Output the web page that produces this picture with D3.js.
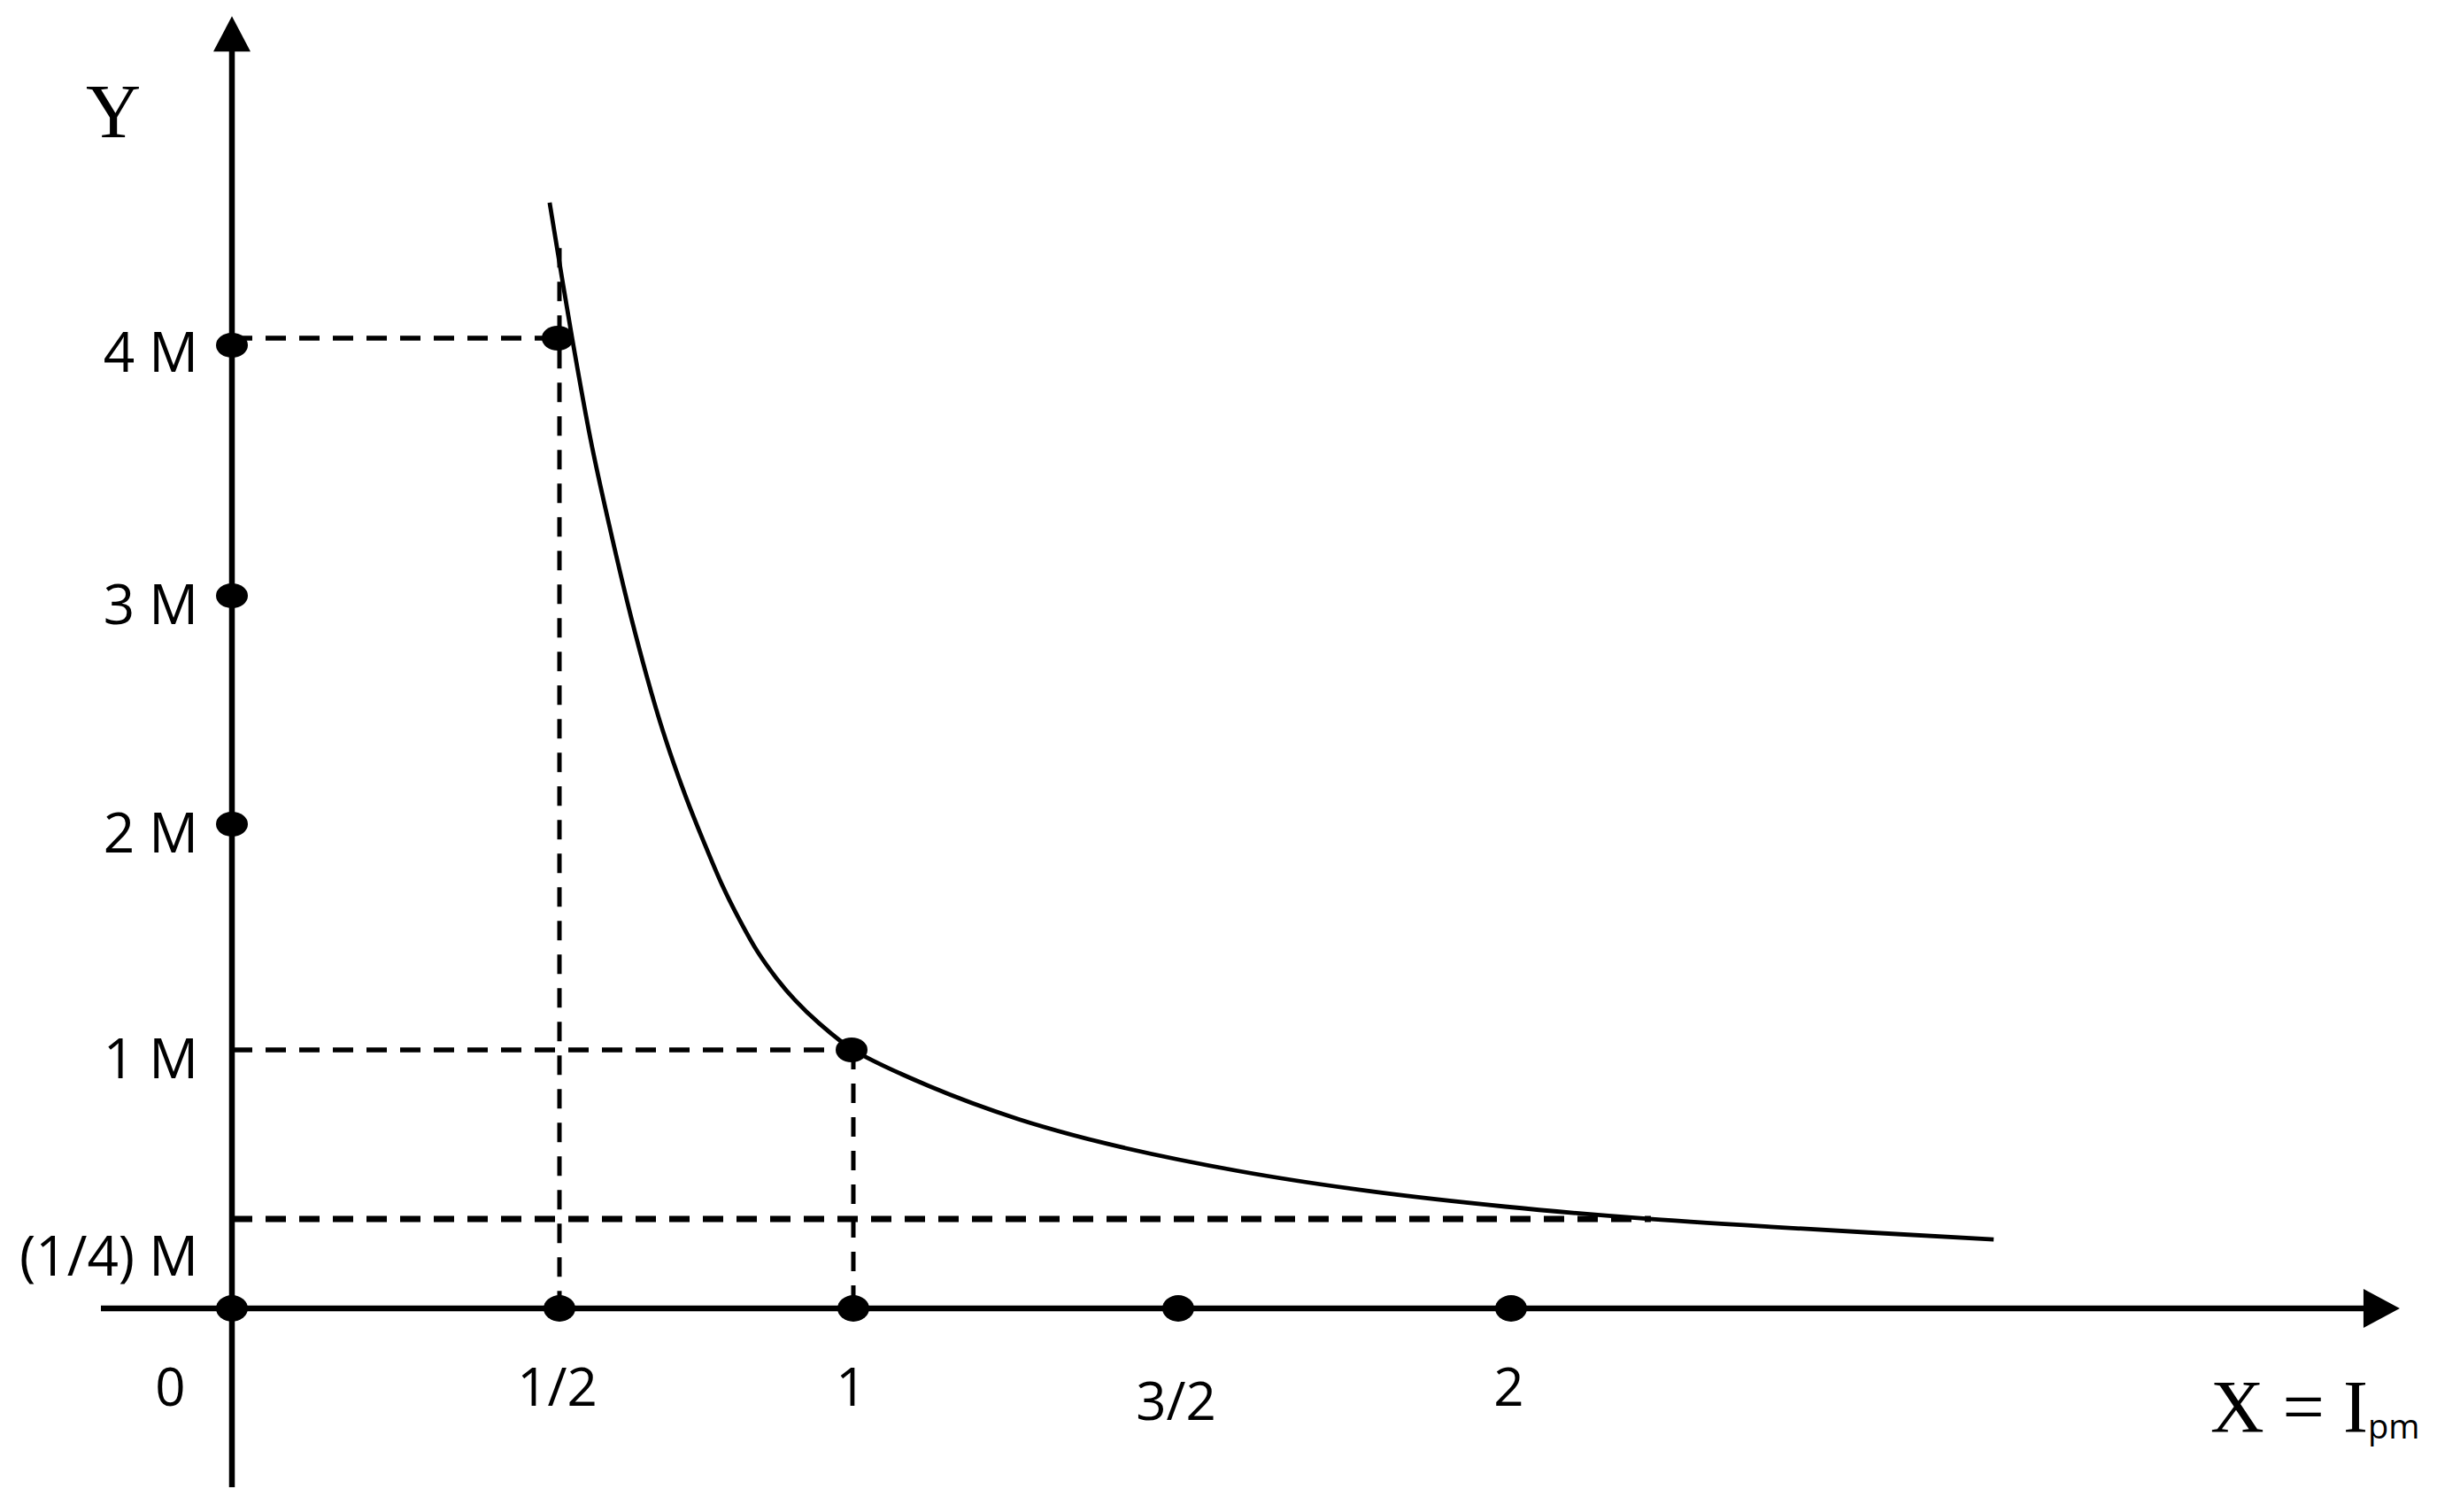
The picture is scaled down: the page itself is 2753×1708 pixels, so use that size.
<!DOCTYPE html>
<html>
<head>
<meta charset="utf-8">
<script src="https://cdn.jsdelivr.net/npm/d3@7"></script>
<style>
  html, body { margin: 0; padding: 0; background: #fff; }
  svg { display: block; background: #fff; }
</style>
</head>
<body>
<svg id="chart" width="2753" height="1708"></svg>
<script>
// X = I_pm on the horizontal axis, Y in units of M
const xTicks = [0, 0.5, 1, 1.5, 2];
const xTickLabels = ["0", "1/2", "1", "3/2", "2"];
const yTicks = [4, 3, 2, 1, 0.25];
const yTickLabels = ["4 M", "3 M", "2 M", "1 M", "(1/4) M"];

// dots sitting on the axes
const xAxisDots = [0, 0.5, 1, 1.5, 2];
const yAxisDots = [4, 3, 2];

// marked points on the curve
const curveDots = [[0.5, 4], [1, 1]];

// dashed guide lines
const hGuideLevels = [4, 1, 0.25];
const hGuideEnds = [0.5, 1, 2.21];
const vGuideXs = [0.5, 1];
const vGuideTops = [4.35, 1];

// curve
const curveX = [0.485, 0.520, 0.554, 0.587, 0.623, 0.664, 0.688, 0.715, 0.745, 0.777,
                0.807, 0.837, 0.869, 0.901, 0.940, 1.0, 1.117, 1.253, 1.390, 1.592,
                1.791, 1.991, 2.190, 2.390, 2.725];
const curveY = [4.526, 4.021, 3.595, 3.251, 2.895, 2.508, 2.314, 2.120, 1.925, 1.729,
                1.573, 1.435, 1.318, 1.220, 1.122, 1.0, 0.839, 0.694, 0.584, 0.462,
                0.372, 0.305, 0.254, 0.228, 0.193];

// axis extents (data units)
const xAxisExtent = [-0.2, 3.335];
const yAxisExtent = [-0.5, 5.25];

const svg = d3.select("#chart");

// the sketch is not evenly spaced, so the scales are piecewise
const x = d3.scaleLinear()
    .domain([0, 0.5, 1, 1.5, 2])
    .range([262, 632, 964, 1331, 1707]);
const y = d3.scaleLinear()
    .domain([0, 0.25, 1, 2, 3, 4])
    .range([1478, 1377, 1186, 931, 673, 382]);

const g = svg.append("g");

// guides
g.selectAll(".hguide")
  .data(hGuideLevels)
  .enter().append("line")
    .attr("class", "hguide")
    .attr("x1", x(0))
    .attr("x2", (d, i) => x(hGuideEnds[i]))
    .attr("y1", d => y(d))
    .attr("y2", d => y(d))
    .attr("stroke", "#000")
    .attr("stroke-width", d => d < 0.5 ? 7 : 5.5)
    .attr("stroke-dasharray", "23 15");

g.selectAll(".vguide")
  .data(vGuideXs)
  .enter().append("line")
    .attr("class", "vguide")
    .attr("x1", d => x(d))
    .attr("x2", d => x(d))
    .attr("y1", (d, i) => y(vGuideTops[i]))
    .attr("y2", y(0))
    .attr("stroke", "#000")
    .attr("stroke-width", 5)
    .attr("stroke-dasharray", "22 16");

// curve
const curveData = curveX.map((v, i) => [v, curveY[i]]);
const line = d3.line()
    .x(d => x(d[0]))
    .y(d => y(d[1]))
    .curve(d3.curveCatmullRom.alpha(0.5));

g.append("path")
  .datum(curveData)
  .attr("d", line)
  .attr("fill", "none")
  .attr("stroke", "#000")
  .attr("stroke-width", 4.8);

// axes lines with arrow heads
const x0 = x(0), y0 = y(0);
const xTip = x(xAxisExtent[1]);
const yTip = y(yAxisExtent[1]);

g.append("line")
  .attr("x1", x(xAxisExtent[0])).attr("x2", xTip - 30)
  .attr("y1", y0).attr("y2", y0)
  .attr("stroke", "#000").attr("stroke-width", 6.5);
g.append("path")
  .attr("d", `M${xTip},${y0} L${xTip - 41},${y0 - 22} L${xTip - 41},${y0 + 22} Z`)
  .attr("fill", "#000");

g.append("line")
  .attr("x1", x0).attr("x2", x0)
  .attr("y1", y(yAxisExtent[0])).attr("y2", yTip + 30)
  .attr("stroke", "#000").attr("stroke-width", 6.5);
g.append("path")
  .attr("d", `M${x0},${yTip} L${x0 - 21},${yTip + 40} L${x0 + 21},${yTip + 40} Z`)
  .attr("fill", "#000");

// dots
const dot = (sel) => sel.attr("rx", 18).attr("ry", 14).attr("fill", "#000");

g.selectAll(".xdot")
  .data(xAxisDots)
  .enter().append("ellipse")
    .attr("class", "xdot")
    .attr("cx", d => x(d))
    .attr("cy", y0)
    .call(dot)
    .attr("ry", 15);

g.selectAll(".ydot")
  .data(yAxisDots)
  .enter().append("ellipse")
    .attr("class", "ydot")
    .attr("cx", x0)
    .attr("cy", d => y(d) + (d === 4 ? 8 : 0))
    .call(dot);

g.selectAll(".cdot")
  .data(curveDots)
  .enter().append("ellipse")
    .attr("class", "cdot")
    .attr("cx", d => x(d[0]) - 2)
    .attr("cy", d => y(d[1]))
    .call(dot);

// tick labels through d3 axes
const xAxis = d3.axisBottom(x)
    .tickValues(xTicks)
    .tickFormat((d, i) => xTickLabels[i])
    .tickSize(0)
    .tickPadding(67);

const xAxisG = g.append("g")
  .attr("transform", `translate(0,${y0})`)
  .call(xAxis);
xAxisG.select(".domain").remove();
xAxisG.attr("font-family", "'Open Sans', sans-serif").attr("font-size", 60);
xAxisG.selectAll("text")
  .attr("fill", "#000")
  .attr("dx", d => d === 0 ? -70 : -3)
  .attr("dy", d => d === 1.5 ? "0.98em" : "0.71em");

const yAxis = d3.axisLeft(y)
    .tickValues(yTicks)
    .tickFormat((d, i) => yTickLabels[i])
    .tickSize(0)
    .tickPadding(38);

const yAxisG = g.append("g")
  .attr("transform", `translate(${x0},0)`)
  .call(yAxis);
yAxisG.select(".domain").remove();
yAxisG.attr("font-family", "'Open Sans', sans-serif").attr("font-size", 62);
yAxisG.selectAll("text")
  .attr("fill", "#000")
  .attr("dy", d => d < 0.5 ? "1.02em" : (d === 4 ? "0.6em" : "0.5em"));

// axis titles
g.append("text")
  .attr("x", x0 - 134)
  .attr("y", yTip + 137)
  .attr("text-anchor", "middle")
  .attr("font-family", "'Liberation Serif', 'Times New Roman', serif")
  .attr("font-size", 86)
  .text("Y");

const xTitle = g.append("text")
  .attr("x", xTip - 214)
  .attr("y", y0 + 140)
  .attr("font-family", "'Liberation Serif', 'Times New Roman', serif")
  .attr("font-size", 84);
xTitle.append("tspan").text("X = I");
xTitle.append("tspan")
  .attr("dy", 7)
  .attr("font-family", "'Open Sans', sans-serif")
  .attr("font-size", 38)
  .text("pm");
</script>
</body>
</html>
